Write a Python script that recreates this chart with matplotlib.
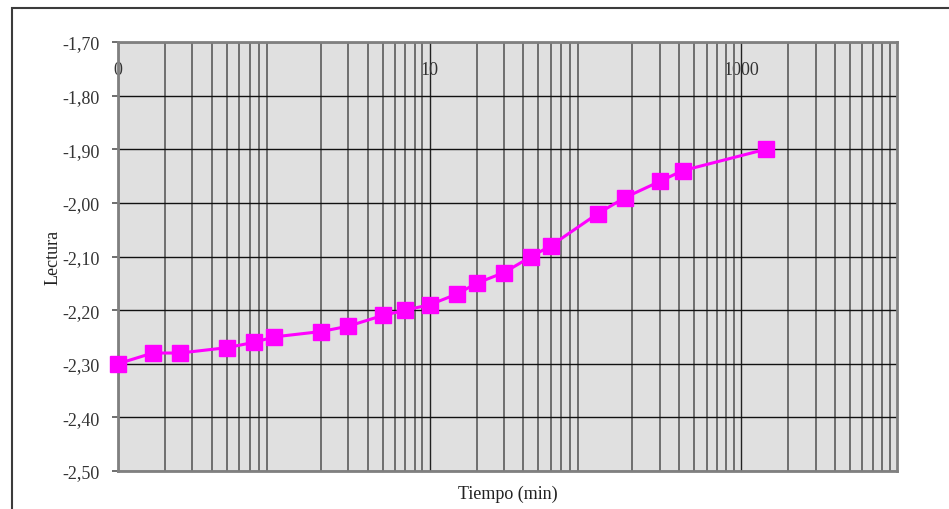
import numpy as np
import matplotlib
matplotlib.use("Agg")
import matplotlib.pyplot as plt
from matplotlib.patches import Rectangle
from matplotlib.ticker import LogLocator, NullFormatter

# Data
tiempo = [0.1, 0.167, 0.25, 0.5, 0.75, 1, 2, 3, 5, 7, 10, 15, 20, 30, 45, 60,
          120, 180, 300, 420, 1440]
lectura = [-2.30, -2.28, -2.28, -2.27, -2.26, -2.25, -2.24, -2.23, -2.21, -2.20,
           -2.19, -2.17, -2.15, -2.13, -2.10, -2.08, -2.02, -1.99, -1.96, -1.94,
           -1.90]
x_ticks = [0.1, 10, 1000]
x_labels = ["0", "10", "1000"]
y_ticks = [-2.5, -2.4, -2.3, -2.2, -2.1, -2.0, -1.9, -1.8, -1.7]
y_labels = ["-2,50", "-2,40", "-2,30", "-2,20", "-2,10", "-2,00", "-1,90", "-1,80", "-1,70"]

plt.rcParams['font.family'] = ['Liberation Serif', 'DejaVu Serif']

fig = plt.figure(figsize=(9.49, 5.10), dpi=100)
ax = fig.add_axes([118 / 949, 1 - 472 / 510, (897 - 118) / 949, (472 - 43) / 510])

# Outer chart-area frame
fig.patches.append(Rectangle((12 / 949, -0.1), 1.2, 1.1 - 9 / 510, transform=fig.transFigure,
                             fill=False, edgecolor='#3c3c3c', linewidth=1.5))

ax.set_facecolor('#e0e0e0')
ax.set_xscale('log')
ax.set_xlim(0.1, 10000)
ax.set_ylim(-2.5, -1.7)

# Grid
ax.xaxis.set_major_locator(LogLocator(base=10, numticks=20))
ax.xaxis.set_minor_locator(LogLocator(base=10, subs=np.arange(2, 10), numticks=20))
ax.xaxis.set_minor_formatter(NullFormatter())
ax.grid(True, which='major', axis='x', color='#222222', linewidth=1.0)
ax.grid(True, which='minor', axis='x', color='#666666', linewidth=1.3)
ax.grid(True, which='major', axis='y', color='#111111', linewidth=1.0)
ax.set_axisbelow(True)

ax.plot(tiempo, lectura, color='#ff00ff', linewidth=2.2, marker='s',
        markersize=11, markerfacecolor='#ff00ff', markeredgecolor='#ff00ff',
        zorder=3, clip_on=False)

# X labels drawn on top, inside the plot area
ax.set_xticks(x_ticks, x_labels)
ax.tick_params(axis='x', which='both', bottom=False, top=False, labelbottom=False,
               labeltop=True, pad=-26, labelsize=13, labelcolor='#333333', length=0)
ax.set_yticks(y_ticks, y_labels)
ax.tick_params(axis='y', direction='out', length=4, width=1.2, color='#555555',
               pad=9, labelsize=13, labelcolor='#333333')

for s in ax.spines.values():
    s.set_color('#808080')
    s.set_linewidth(2)

ax.set_ylabel('Lectura', fontsize=13, color='#222222', labelpad=1)
ax.set_xlabel('Tiempo (min)', fontsize=13, color='#222222', labelpad=10)

fig.savefig('out.png', dpi=100)
